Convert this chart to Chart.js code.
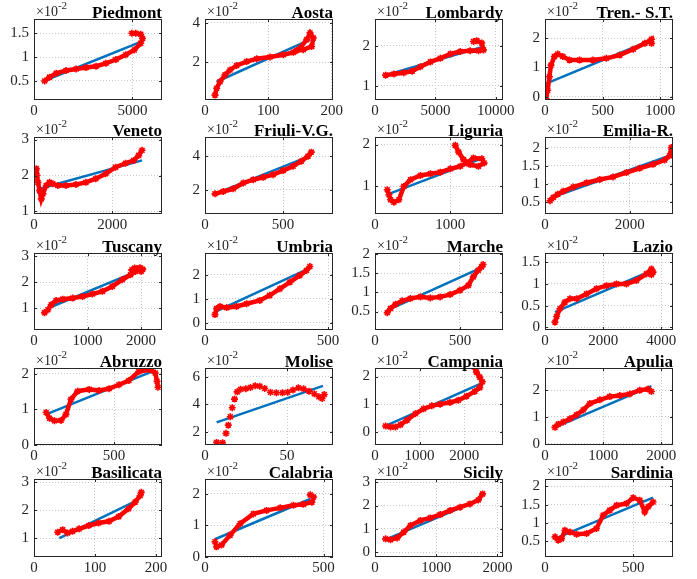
<!DOCTYPE html>
<html>
<head>
<meta charset="utf-8">
<script src="https://cdn.jsdelivr.net/npm/chart.js@4.4.1/dist/chart.umd.min.js"></script>
<style>
  body { margin: 0; background: #fff; width: 697px; height: 579px; overflow: hidden; position: relative; }
  canvas { position: absolute; }
</style>
</head>
<body>
<script>
// values, y in units of 10^-2
const piedmontX = [540, 790, 1130, 1630, 2140, 2640, 3150, 3650, 4160, 4660, 5090, 5420, 5510, 5420, 5170, 4970];
const piedmontY = [0.50, 0.58, 0.66, 0.72, 0.75, 0.78, 0.81, 0.87, 0.95, 1.05, 1.15, 1.29, 1.39, 1.48, 1.50, 1.50];
const piedmontFitX = [620, 5420];
const piedmontFitY = [0.52, 1.32];

const aostaX = [15.8, 18.4, 23.7, 31.6, 39.5, 50, 65.8, 81.6, 102.6, 123.7, 139.5, 150, 160.5, 165.8, 171, 168.4, 155, 145];
const aostaY = [0.32, 0.67, 1.0, 1.35, 1.6, 1.83, 2.03, 2.17, 2.26, 2.38, 2.5, 2.72, 3.15, 3.49, 3.23, 2.8, 2.63, 2.6];
const aostaFitX = [18.4, 165.8];
const aostaFitY = [1.0, 3.15];

const lombardyX = [880, 1570, 2390, 3080, 3760, 4590, 5410, 6240, 7060, 7880, 8570, 8980, 8840, 8430, 8160];
const lombardyY = [1.27, 1.30, 1.33, 1.37, 1.48, 1.60, 1.69, 1.80, 1.86, 1.88, 1.88, 1.90, 2.07, 2.13, 2.11];
const lombardyFitX = [1020, 8980];
const lombardyFitY = [1.28, 1.98];

const trentinoX = [9, 23, 38, 52, 81, 110, 154, 212, 300, 416, 532, 648, 765, 866, 924, 924];
const trentinoY = [-0.06, 0.22, 0.68, 1.08, 1.37, 1.46, 1.37, 1.25, 1.25, 1.25, 1.31, 1.42, 1.62, 1.82, 1.96, 1.82];
const trentinoFitX = [9, 924];
const trentinoFitY = [0.45, 1.94];

const venetoX = [59, 76, 101, 143, 186, 228, 312, 397, 481, 608, 819, 1072, 1325, 1578, 1831, 2085, 2338, 2549, 2675, 2760];
const venetoY = [2.19, 2.0, 1.81, 1.58, 1.35, 1.49, 1.72, 1.81, 1.77, 1.72, 1.72, 1.75, 1.81, 1.91, 2.05, 2.23, 2.34, 2.42, 2.56, 2.70];
const venetoFitX = [143, 2760];
const venetoFitY = [1.63, 2.42];

const friuliX = [64, 117, 181, 245, 309, 372, 436, 500, 564, 617, 660, 681];
const friuliY = [1.76, 1.90, 2.06, 2.40, 2.60, 2.74, 2.90, 3.14, 3.40, 3.70, 4.00, 4.24];
const friuliFitX = [64, 670];
const friuliFitY = [1.76, 4.0];

const liguriaX = [163, 185, 207, 251, 317, 383, 471, 603, 736, 868, 1000, 1132, 1220, 1308, 1419, 1450, 1374, 1264, 1176, 1110, 1066];
const liguriaY = [0.92, 0.80, 0.68, 0.62, 0.68, 1.0, 1.16, 1.26, 1.30, 1.34, 1.42, 1.48, 1.56, 1.68, 1.66, 1.56, 1.48, 1.52, 1.64, 1.82, 1.98];
const liguriaFitX = [185, 1440];
const liguriaFitY = [0.82, 1.68];

const emiliaX = [118, 196, 300, 431, 666, 980, 1294, 1607, 1921, 2234, 2548, 2822, 2940, 2979];
const emiliaY = [0.53, 0.62, 0.71, 0.79, 0.91, 1.03, 1.12, 1.19, 1.31, 1.43, 1.54, 1.66, 1.78, 2.01];
const emiliaFitX = [118, 2940];
const emiliaFitY = [0.60, 1.78];

const tuscanyX = [197, 259, 321, 413, 537, 722, 907, 1092, 1277, 1462, 1647, 1802, 1894, 1830, 1880, 1980, 2030, 2000];
const tuscanyY = [0.83, 0.94, 1.13, 1.30, 1.35, 1.39, 1.45, 1.55, 1.65, 1.84, 2.10, 2.29, 2.42, 2.48, 2.55, 2.56, 2.50, 2.42];
const tuscanyFitX = [259, 1987];
const tuscanyFitY = [1.0, 2.48];

const umbriaX = [40.5, 47, 61, 88, 128, 169, 223, 263, 304, 345, 385, 412, 426];
const umbriaY = [0.34, 0.59, 0.68, 0.63, 0.68, 0.79, 0.93, 1.14, 1.41, 1.69, 1.97, 2.17, 2.34];
const umbriaFitX = [40.5, 419];
const umbriaFitY = [0.45, 2.24];

const marcheX = [72, 91, 121, 160, 208, 267, 325, 383, 442, 500, 549, 578, 607, 627, 636];
const marcheY = [0.47, 0.58, 0.69, 0.78, 0.84, 0.88, 0.85, 0.88, 0.94, 1.05, 1.18, 1.40, 1.57, 1.66, 1.72];
const marcheFitX = [72, 636];
const marcheFitY = [0.53, 1.66];

const lazioX = [343, 400, 514, 686, 857, 1086, 1429, 1771, 2114, 2457, 2800, 3143, 3486, 3657, 3714, 3657];
const lazioY = [0.12, 0.25, 0.43, 0.58, 0.66, 0.66, 0.77, 0.89, 0.96, 1.0, 1.0, 1.08, 1.23, 1.34, 1.27, 1.21];
const lazioFitX = [343, 3543];
const lazioFitY = [0.35, 1.27];

const abruzzoX = [76, 97, 128, 169, 200, 231, 273, 345, 407, 469, 531, 593, 655, 727, 758, 769, 775];
const abruzzoY = [0.91, 0.75, 0.68, 0.69, 0.86, 1.28, 1.51, 1.56, 1.53, 1.58, 1.69, 1.81, 2.06, 2.11, 2.02, 1.79, 1.62];
const abruzzoFitX = [76, 748];
const abruzzoFitY = [0.86, 2.08];

const moliseX = [7.1, 10.7, 12.8, 14.2, 15.4, 16.6, 18.0, 19.6, 21.7, 24.9, 27.7, 30.6, 33.4, 36.4, 39.9, 43.5, 47.2, 50.4, 53.6, 56.9, 60.1, 63.4, 66.6, 69.4, 71.4, 72.7];
const moliseY = [1.22, 1.20, 1.88, 2.48, 3.09, 3.75, 4.38, 4.91, 5.10, 5.13, 5.23, 5.35, 5.32, 5.15, 4.88, 4.84, 4.84, 4.88, 5.05, 5.20, 5.13, 4.96, 4.77, 4.55, 4.42, 4.72];
const moliseFitX = [7.1, 71.9];
const moliseFitY = [2.68, 5.35];

const campaniaX = [237, 348, 459, 570, 719, 904, 1089, 1274, 1459, 1681, 1867, 2052, 2237, 2348, 2407, 2348, 2274, 2222];
const campaniaY = [0.21, 0.17, 0.17, 0.25, 0.42, 0.65, 0.83, 0.94, 1.0, 1.06, 1.14, 1.29, 1.46, 1.60, 1.81, 1.98, 2.16, 2.35];
const campaniaFitX = [237, 2385];
const campaniaFitY = [0.21, 1.75];

const apuliaX = [171, 229, 314, 429, 543, 657, 771, 943, 1114, 1286, 1457, 1629, 1771, 1829];
const apuliaY = [0.61, 0.73, 0.81, 0.93, 1.08, 1.26, 1.50, 1.64, 1.76, 1.80, 1.86, 2.0, 2.04, 1.95];
const apuliaFitX = [171, 1829];
const apuliaFitY = [0.61, 2.15];

const basilicataX = [38.9, 47, 55, 63, 74, 90, 106, 123, 139, 155, 166, 174, 176];
const basilicataY = [1.21, 1.30, 1.18, 1.24, 1.33, 1.45, 1.54, 1.60, 1.77, 2.05, 2.29, 2.52, 2.64];
const basilicataFitX = [41.6, 171];
const basilicataFitY = [1.0, 2.37];

const calabriaX = [42, 49, 70, 106, 148, 204, 260, 317, 373, 415, 451, 458, 444];
const calabriaY = [0.48, 0.32, 0.38, 0.69, 1.05, 1.36, 1.47, 1.55, 1.63, 1.66, 1.73, 1.89, 1.96];
const calabriaFitX = [42, 444];
const calabriaFitY = [0.56, 1.83];

const sicilyX = [173, 254, 362, 470, 578, 741, 903, 1065, 1227, 1389, 1551, 1686, 1757];
const sicilyY = [0.57, 0.53, 0.61, 0.86, 1.14, 1.36, 1.47, 1.61, 1.79, 1.93, 2.07, 2.24, 2.50];
const sicilyFitX = [200, 1740];
const sicilyFitY = [0.57, 2.29];

const sardiniaX = [57, 75, 94, 113, 142, 179, 236, 292, 330, 368, 406, 462, 500, 538, 566, 585, 613];
const sardiniaY = [0.62, 0.53, 0.57, 0.80, 0.75, 0.69, 0.71, 0.85, 1.21, 1.35, 1.48, 1.53, 1.69, 1.62, 1.30, 1.44, 1.57];
const sardiniaFitX = [57, 613];
const sardiniaFitY = [0.57, 1.69];

// axis limits and tick labels per panel
const panels = [
  { name: 'Piedmont', x: piedmontX, y: piedmontY, fx: piedmontFitX, fy: piedmontFitY, xr: [0, 6500], yr: [0.1, 1.8], xt: [0, 5000], yt: [0.5, 1, 1.5] },
  { name: 'Aosta', x: aostaX, y: aostaY, fx: aostaFitX, fy: aostaFitY, xr: [0, 202], yr: [0.07, 4.2], xt: [0, 100, 200], yt: [2, 4] },
  { name: 'Lombardy', x: lombardyX, y: lombardyY, fx: lombardyFitX, fy: lombardyFitY, xr: [0, 10600], yr: [0.65, 2.67], xt: [0, 5000, 10000], yt: [1, 2] },
  { name: 'Tren.- S.T.', x: trentinoX, y: trentinoY, fx: trentinoFitX, fy: trentinoFitY, xr: [0, 1110], yr: [-0.11, 2.65], xt: [0, 500, 1000], yt: [0, 1, 2] },
  { name: 'Veneto', x: venetoX, y: venetoY, fx: venetoFitX, fy: venetoFitY, xr: [0, 3270], yr: [0.93, 3.07], xt: [0, 2000], yt: [1, 2, 3] },
  { name: 'Friuli-V.G.', x: friuliX, y: friuliY, fx: friuliFitX, fy: friuliFitY, xr: [0, 820], yr: [0.56, 5.14], xt: [0, 500], yt: [2, 4] },
  { name: 'Liguria', x: liguriaX, y: liguriaY, fx: liguriaFitX, fy: liguriaFitY, xr: [0, 1700], yr: [0.34, 2.18], xt: [0, 1000], yt: [1, 2] },
  { name: 'Emilia-R.', x: emiliaX, y: emiliaY, fx: emiliaFitX, fy: emiliaFitY, xr: [0, 3020], yr: [0.16, 2.3], xt: [0, 2000], yt: [0.5, 1, 1.5, 2] },
  { name: 'Tuscany', x: tuscanyX, y: tuscanyY, fx: tuscanyFitX, fy: tuscanyFitY, xr: [0, 2390], yr: [0.16, 3.13], xt: [0, 1000, 2000], yt: [1, 2, 3] },
  { name: 'Umbria', x: umbriaX, y: umbriaY, fx: umbriaFitX, fy: umbriaFitY, xr: [0, 520], yr: [-0.3, 2.9], xt: [0, 500], yt: [0, 1, 2] },
  { name: 'Marche', x: marcheX, y: marcheY, fx: marcheFitX, fy: marcheFitY, xr: [0, 753], yr: [0.02, 2.02], xt: [0, 500], yt: [0.5, 1, 1.5, 2] },
  { name: 'Lazio', x: lazioX, y: lazioY, fx: lazioFitX, fy: lazioFitY, xr: [0, 4400], yr: [-0.06, 1.71], xt: [0, 2000, 4000], yt: [0, 0.5, 1, 1.5] },
  { name: 'Abruzzo', x: abruzzoX, y: abruzzoY, fx: abruzzoFitX, fy: abruzzoFitY, xr: [0, 800], yr: [0, 2.16], xt: [0, 500], yt: [0, 1, 2] },
  { name: 'Molise', x: moliseX, y: moliseY, fx: moliseFitX, fy: moliseFitY, xr: [0, 78], yr: [1.03, 6.65], xt: [0, 50], yt: [2, 4, 6], dots: true },
  { name: 'Campania', x: campaniaX, y: campaniaY, fx: campaniaFitX, fy: campaniaFitY, xr: [0, 2870], yr: [-0.48, 2.31], xt: [0, 1000, 2000], yt: [0, 1, 2] },
  { name: 'Apulia', x: apuliaX, y: apuliaY, fx: apuliaFitX, fy: apuliaFitY, xr: [0, 2200], yr: [-0.05, 2.83], xt: [0, 1000, 2000], yt: [0, 1, 2] },
  { name: 'Basilicata', x: basilicataX, y: basilicataY, fx: basilicataFitX, fy: basilicataFitY, xr: [0, 210], yr: [0.32, 3.12], xt: [0, 100, 200], yt: [1, 2, 3] },
  { name: 'Calabria', x: calabriaX, y: calabriaY, fx: calabriaFitX, fy: calabriaFitY, xr: [0, 540], yr: [0, 2.46], xt: [0, 500], yt: [0, 1, 2] },
  { name: 'Sicily', x: sicilyX, y: sicilyY, fx: sicilyFitX, fy: sicilyFitY, xr: [0, 2090], yr: [-0.21, 3.14], xt: [0, 1000, 2000], yt: [0, 1, 2, 3] },
  { name: 'Sardinia', x: sardiniaX, y: sardiniaY, fx: sardiniaFitX, fy: sardiniaFitY, xr: [0, 726], yr: [0.07, 2.2], xt: [0, 500], yt: [0.5, 1, 1.5, 2] }
];

const colLeft = [34, 205, 375, 545];
const rowTop = [19, 137, 253, 368, 479];
const rowBottom = [100, 214, 330, 445, 557];
const plotW = 128;
const padL = 34, padR = 24, padT = 20, padB = 20;
const axisColor = '#262626';
const tickFont = { family: '"Liberation Serif", "Times New Roman", serif', size: 15 };

function deco(title) {
  return {
    id: 'deco',
    afterDraw(chart) {
      const { ctx, chartArea: a, scales } = chart;
      ctx.save();
      ctx.strokeStyle = axisColor;
      ctx.lineWidth = 1;
      ctx.strokeRect(a.left + 0.5, a.top + 0.5, a.right - a.left - 1, a.bottom - a.top - 1);
      ctx.beginPath();
      scales.x.ticks.forEach(t => {
        const px = Math.round(scales.x.getPixelForValue(t.value)) + 0.5;
        ctx.moveTo(px, a.bottom); ctx.lineTo(px, a.bottom - 3);
        ctx.moveTo(px, a.top); ctx.lineTo(px, a.top + 3);
      });
      scales.y.ticks.forEach(t => {
        const py = Math.round(scales.y.getPixelForValue(t.value)) + 0.5;
        ctx.moveTo(a.left, py); ctx.lineTo(a.left + 3, py);
        ctx.moveTo(a.right, py); ctx.lineTo(a.right - 3, py);
      });
      ctx.stroke();

      ctx.fillStyle = axisColor;
      ctx.textAlign = 'left';
      ctx.textBaseline = 'alphabetic';
      ctx.font = '14px "Liberation Serif"';
      ctx.fillText('×10', a.left + 2, a.top - 3);
      const w = ctx.measureText('×10').width;
      ctx.font = '11px "Liberation Serif"';
      ctx.fillText('-2', a.left + 2 + w, a.top - 10);

      ctx.fillStyle = '#000';
      ctx.textAlign = 'right';
      ctx.font = 'bold 17px "Liberation Serif"';
      ctx.fillText(title, a.right, a.top - 1);
      ctx.restore();
    }
  };
}

panels.forEach((p, i) => {
  const r = Math.floor(i / 4), c = i % 4;
  const h = rowBottom[r] - rowTop[r];
  const cv = document.createElement('canvas');
  cv.width = padL + plotW + padR;
  cv.height = padT + h + padB;
  cv.style.left = (colLeft[c] - padL) + 'px';
  cv.style.top = (rowTop[r] - padT) + 'px';
  document.body.appendChild(cv);

  const pts = p.x.map((v, k) => ({ x: v, y: p.y[k] }));
  const fit = p.fx.map((v, k) => ({ x: v, y: p.fy[k] }));

  new Chart(cv, {
    type: 'scatter',
    data: {
      datasets: [{
        data: pts,
        showLine: !p.dots,
        borderColor: '#ff0000',
        borderWidth: 4.5,
        pointStyle: 'star',
        pointRadius: 3.5,
        pointBorderColor: '#ff0000',
        pointBackgroundColor: '#ff0000',
        pointBorderWidth: 1.6
      }, {
        data: fit,
        showLine: true,
        borderColor: '#0072BD',
        borderWidth: 2.5,
        pointRadius: 0
      }]
    },
    options: {
      responsive: false,
      animation: false,
      events: [],
      layout: { padding: { top: padT, right: padR, left: 0, bottom: 0 } },
      plugins: { legend: { display: false }, tooltip: { enabled: false } },
      scales: {
        x: {
          type: 'linear', min: p.xr[0], max: p.xr[1],
          afterBuildTicks: s => { s.ticks = p.xt.map(v => ({ value: v })); },
          afterFit: s => { s.height = padB; },
          grid: { color: '#c8c8c8', drawTicks: false },
          border: { display: false, dash: [1, 2] },
          ticks: { font: tickFont, color: axisColor, padding: 2, maxRotation: 0, autoSkip: false, callback: v => String(v) }
        },
        y: {
          type: 'linear', min: p.yr[0], max: p.yr[1],
          afterBuildTicks: s => { s.ticks = p.yt.map(v => ({ value: v })); },
          afterFit: s => { s.width = padL; },
          grid: { color: '#c8c8c8', drawTicks: false },
          border: { display: false, dash: [1, 2] },
          ticks: { font: tickFont, color: axisColor, padding: 5, autoSkip: false, callback: v => String(v) }
        }
      }
    },
    plugins: [deco(p.name)]
  });
});
</script>
</body>
</html>
